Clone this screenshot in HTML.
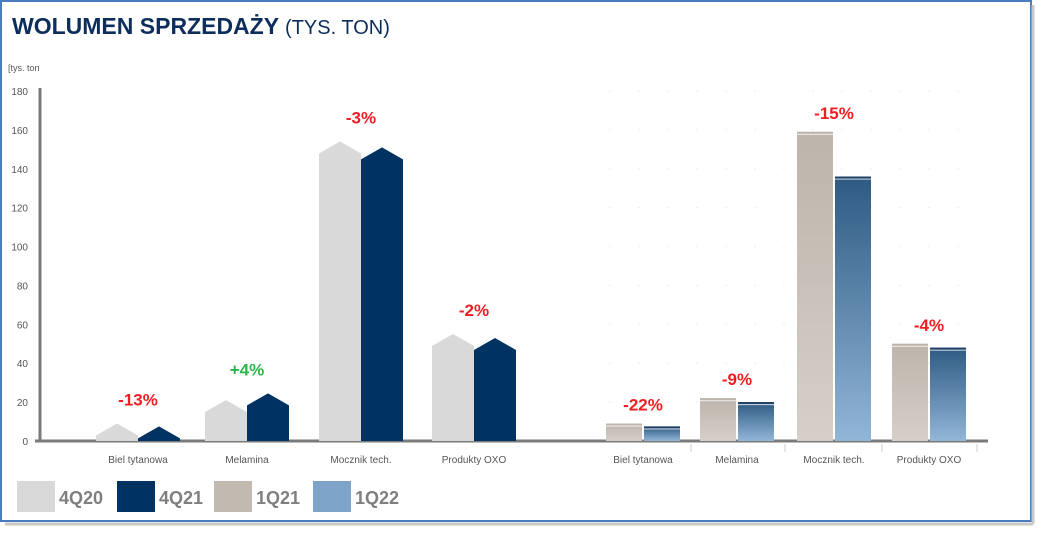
<!DOCTYPE html>
<html><head><meta charset="utf-8"><style>
body{margin:0;background:#fff;}
svg text{font-family:"Liberation Sans",sans-serif;}
</style></head><body>
<svg width="1037" height="528" viewBox="0 0 1037 528">
<defs>
<linearGradient id="gBeige" x1="0" y1="0" x2="0" y2="1"><stop offset="0" stop-color="#bdb4aa"/><stop offset="1" stop-color="#d6cfc9"/></linearGradient>
<linearGradient id="gBlue" x1="0" y1="0" x2="0" y2="1"><stop offset="0" stop-color="#2e5a82"/><stop offset="1" stop-color="#92b6d8"/></linearGradient>
</defs>
<rect x="1" y="1" width="1030" height="520" fill="#fff" stroke="#4a7cc0" stroke-width="2"/>
<line x1="1033" y1="5" x2="1033" y2="524" stroke="#c8c8c8" stroke-width="3"/>
<line x1="5" y1="524" x2="1033" y2="524" stroke="#c8c8c8" stroke-width="3"/>
<text x="12" y="34" font-size="23" font-weight="bold" fill="#0d2e5c">WOLUMEN SPRZEDAŻY <tspan font-weight="normal" font-size="20">(TYS. TON)</tspan></text>
<text x="8" y="71" font-size="9" fill="#555">[tys. ton</text>
<g id="yaxis"></g>
<g id="grid"></g>
<g id="bars"></g>
<g id="legend"></g>
</svg>
<script>
const categories=["Biel tytanowa","Melamina","Mocznik tech.","Produkty OXO"];
const q4_20=[9,21,154,55];
const q4_21=[7.5,24.5,151,53];
const q1_21=[9,22,159,50];
const q1_22=[7.5,20,136,48];
const leftChanges=["-13%","+4%","-3%","-2%"];
const rightChanges=["-22%","-9%","-15%","-4%"];
const yTicks=[0,20,40,60,80,100,120,140,160,180];
const legendLabels=["4Q20","4Q21","1Q21","1Q22"];

const NS="http://www.w3.org/2000/svg";
const y0=441,ppu=350/180;
const y=v=>y0-v*ppu;
function el(tag,attrs,parent,txt){const e=document.createElementNS(NS,tag);for(const k in attrs)e.setAttribute(k,attrs[k]);if(txt!==undefined)e.textContent=txt;parent.appendChild(e);return e;}
const ya=document.getElementById('yaxis'),bars=document.getElementById('bars'),grid=document.getElementById('grid'),lg=document.getElementById('legend');
// y axis
let ax=el('line',{x1:40,y1:88,x2:40,y2:442,stroke:'#7a7a7a','stroke-width':3},ya);

yTicks.forEach(t=>{let tx=el('text',{x:28,y:y(t)+4,'font-size':10,fill:'#555','text-anchor':'end'},ya,t);
});
let bl=el('line',{x1:35,y1:441,x2:988,y2:441,stroke:'#7a7a7a','stroke-width':3},ya);

// grid dots right
for(let gx=610;gx<=980;gx+=29)for(let t=20;t<=180;t+=20){let d=el('circle',{cx:gx,cy:y(t),r:0.8,fill:'#ececec'},grid);}
// left: house bars
const lCenters=[138,247,361,474],lw=42;
function house(x,w,v,fill,name){const top=y(v),sh=Math.min(top+12,y0);
const p=el('path',{d:`M${x},${y0} L${x},${sh} L${x+w/2},${top} L${x+w},${sh} L${x+w},${y0} Z`,fill:fill},bars);
}
categories.forEach((c,i)=>{const cx=lCenters[i];
house(cx-lw,lw,q4_20[i],'#d9d9d9','bar-4q20-'+i);
house(cx,lw,q4_21[i],'#003262','bar-4q21-'+i);
const mx=Math.max(q4_20[i],q4_21[i]);
let t=el('text',{x:cx,y:y(mx)-18,'font-size':17,'font-weight':'bold','text-anchor':'middle',fill:leftChanges[i][0]=='+'?'#2db34a':'#f01e23'},bars,leftChanges[i]);

let l=el('text',{x:cx,y:463,'font-size':10,'text-anchor':'middle',fill:'#555'},bars,c);
});
// right: flat bars
const rCenters=[643,737,834,929],rw=36;
function flat(x,w,v,fill,cap,name){const r=el('rect',{x:x,y:y(v),width:w,height:y0-y(v),fill:fill},bars);

el('rect',{x:x,y:y(v),width:w,height:2,fill:cap},bars);el('rect',{x:x,y:y(v)+2,width:w,height:1,fill:'#fff',opacity:0.8},bars);}
categories.forEach((c,i)=>{const cx=rCenters[i];
flat(cx-rw-1,rw,q1_21[i],'url(#gBeige)','#bdb4aa','bar-1q21-'+i);
flat(cx+1,rw,q1_22[i],'url(#gBlue)','#1d3f66','bar-1q22-'+i);
const mx=Math.max(q1_21[i],q1_22[i]);
let t=el('text',{x:cx,y:y(mx)-13,'font-size':17,'font-weight':'bold','text-anchor':'middle',fill:'#f01e23'},bars,rightChanges[i]);

let l=el('text',{x:cx,y:463,'font-size':10,'text-anchor':'middle',fill:'#555'},bars,c);

el('line',{x1:cx+48,y1:444,x2:cx+48,y2:452,stroke:'#ccc'},bars);});
// legend
const lx=[17,117,214,313],lf=['#d9d9d9','#003262','#c2b9b0','#7ea4c9'];
legendLabels.forEach((s,i)=>{let r=el('rect',{x:lx[i],y:481,width:38,height:31,fill:lf[i]},lg);

let t=el('text',{x:lx[i]+42,y:504,'font-size':18,'font-weight':'bold',fill:'#7f7f7f'},lg,s);
});
</script>
</body></html>
